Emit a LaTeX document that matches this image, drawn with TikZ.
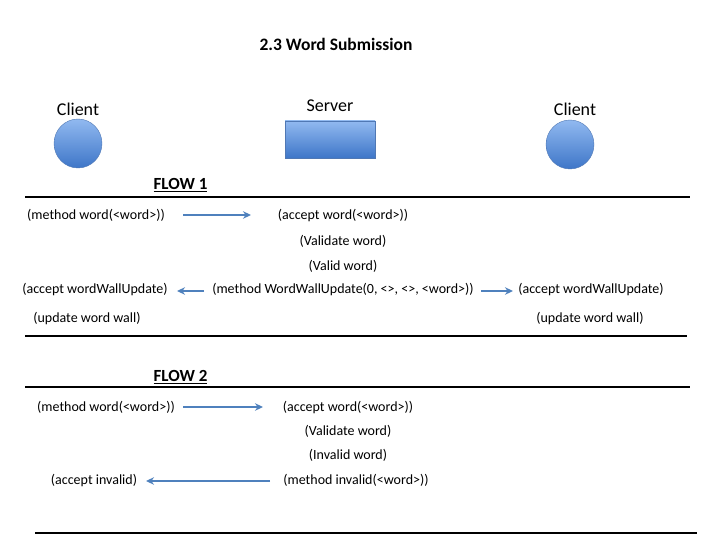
\documentclass[tikz,border=0pt]{standalone}
\usepackage{fontspec}
\setmainfont{Carlito}
\usetikzlibrary{arrows.meta,shapes.geometric}
\definecolor{arrowblue}{RGB}{79,129,189}
\definecolor{lightblue}{RGB}{145,185,240}
\definecolor{darkblue}{RGB}{62,118,200}
\definecolor{edgeblue}{RGB}{80,120,180}
\tikzset{
  lbl/.style={inner sep=0pt, font=\fontsize{14}{16}\selectfont},
  head/.style={inner sep=0pt, font=\fontsize{18}{21}\selectfont},
  flow/.style={inner sep=0pt, font=\bfseries\fontsize{17}{20}\selectfont},
  ttl/.style={inner sep=0pt, font=\bfseries\fontsize{17.5}{20}\selectfont},
  sep/.style={line width=1.6pt, black},
  msg/.style={-{Stealth[length=8pt,width=7.5pt]}, line width=1.7pt, arrowblue},
  blob/.style={draw=edgeblue, line width=0.4pt, top color=lightblue, bottom color=darkblue},
}
\begin{document}
\begin{tikzpicture}[x=1pt,y=-1pt]
\useasboundingbox (0,0) rectangle (720,540);
% title
\node[ttl] (title) at (336,44) {2.3 Word Submission};
% actors
\node[head] (c1l) at (78,109) {Client};
\node[head] (sl) at (330,106) {Server};
\node[head] (c2l) at (575,109) {Client};
\node[blob, ellipse, minimum width=48pt, minimum height=49pt, inner sep=0pt] (c1) at (78,143.5) {};
\node[blob, rectangle, minimum width=90pt, minimum height=37pt, inner sep=0pt] (srv) at (330,139.5) {};
\node[blob, ellipse, minimum width=48pt, minimum height=49pt, inner sep=0pt] (c2) at (570,144.5) {};
% flow 1
\node[flow] (f1) at (180.5,185) {\underline{FLOW 1}};
\coordinate (l1a) at (25,197); \coordinate (l1b) at (690,197);
\draw[sep] (l1a) -- (l1b);
\node[lbl] (a1) at (96,215) {(method word(<word>))};
\node[lbl] (a2) at (343,216) {(accept word(<word>))};
\node[lbl] (a3) at (343,241) {(Validate word)};
\node[lbl] (a4) at (343,266) {(Valid word)};
\node[lbl] (a5l) at (95,290) {(accept wordWallUpdate)};
\node[lbl] (a5) at (343,290) {(method WordWallUpdate(0, <>, <>, <word>))};
\node[lbl] (a5r) at (591,290) {(accept wordWallUpdate)};
\node[lbl] (a6l) at (87,319) {(update word wall)};
\node[lbl] (a6r) at (590,319) {(update word wall)};
\coordinate (m1s) at (183,215); \coordinate (m1e) at (251,215);
\draw[msg] (m1s) -- (m1e);
\coordinate (m2s) at (204,291); \coordinate (m2e) at (177,291);
\draw[msg] (m2s) -- (m2e);
\coordinate (m3s) at (481,291); \coordinate (m3e) at (513,291);
\draw[msg] (m3s) -- (m3e);
\coordinate (l2a) at (25,336); \coordinate (l2b) at (687,336);
\draw[sep] (l2a) -- (l2b);
% flow 2
\node[flow] (f2) at (180.5,377) {\underline{FLOW 2}};
\coordinate (l3a) at (25,387); \coordinate (l3b) at (690,387);
\draw[sep] (l3a) -- (l3b);
\node[lbl] (b1) at (106,407) {(method word(<word>))};
\node[lbl] (b2) at (348,408) {(accept word(<word>))};
\node[lbl] (b3) at (348,431) {(Validate word)};
\node[lbl] (b4) at (348,455) {(Invalid word)};
\node[lbl] (b5l) at (94,481) {(accept invalid)};
\node[lbl] (b5) at (356,480) {(method invalid(<word>))};
\coordinate (n1s) at (183,407); \coordinate (n1e) at (263,407);
\draw[msg] (n1s) -- (n1e);
\coordinate (n2s) at (270,481); \coordinate (n2e) at (146,481);
\draw[msg] (n2s) -- (n2e);
\coordinate (l4a) at (35,533); \coordinate (l4b) at (697,533);
\draw[sep] (l4a) -- (l4b);
\end{tikzpicture}
\end{document}
